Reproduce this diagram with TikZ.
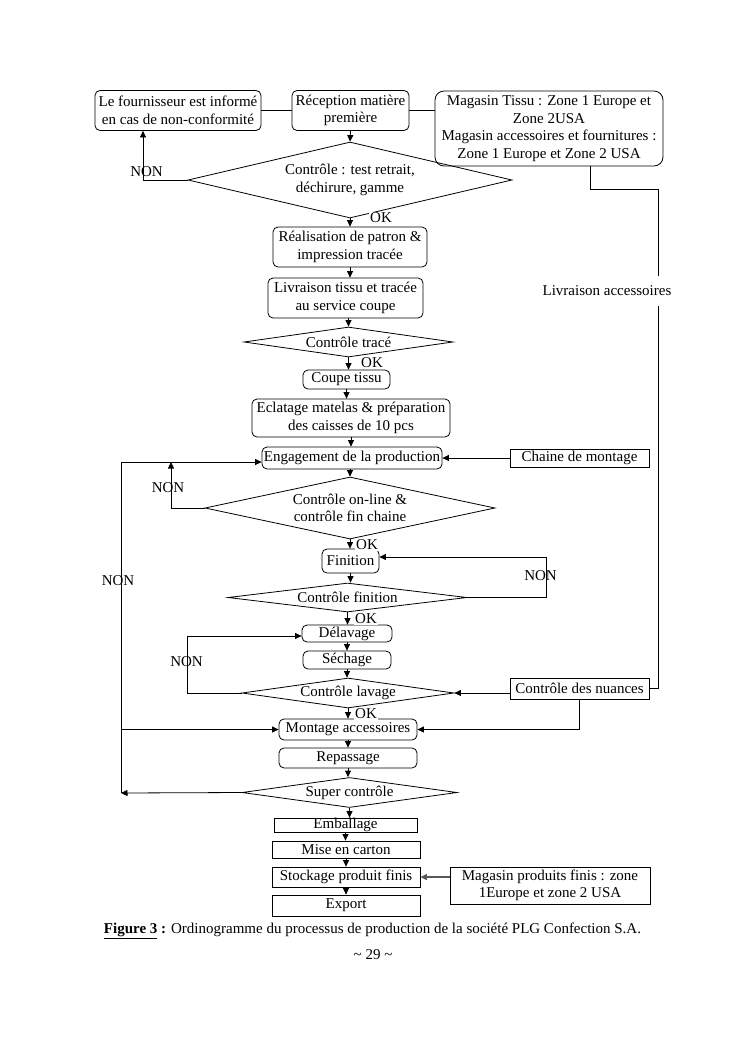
\documentclass[tikz,border=0pt]{standalone}
\usepackage{fontspec}
\setmainfont{Liberation Serif}
\usetikzlibrary{shapes.geometric,arrows.meta,calc}
\begin{document}
\begin{tikzpicture}[x=1pt,y=-1pt,
  every node/.style={font=\fontsize{15}{17.6}\selectfont, inner sep=0pt},
  line/.style={line width=0.8pt},
  arr/.style={line width=0.8pt,-{Triangle[length=6.5pt,width=6pt]}},
  rbox/.style={draw,line width=0.8pt,rounded corners=5pt,align=center},
  sbox/.style={draw,line width=0.8pt,align=center},
  dia/.style={draw,line width=0.8pt,diamond,align=center},
  oklbl/.style={fill=white,inner sep=1pt}]
\useasboundingbox (0,0) rectangle (746,1053);
\fill[white] (0,0) rectangle (746,1053);

% boxes
\node[rbox,minimum width=166pt,minimum height=40pt] (four) at (178,110.5) {Le fournisseur est informé\\en cas de non-conformité};
\node[rbox,minimum width=117pt,minimum height=40pt] (recep) at (350.5,110.5) {Réception matière\\première};
\node[rbox,rounded corners=9pt,minimum width=228pt,minimum height=75pt] (mag) at (549,128.5) {Magasin Tissu : Zone 1 Europe et\\Zone 2USA\\Magasin accessoires et fournitures :\\Zone 1 Europe et Zone 2 USA};
\node[dia,minimum width=324pt,minimum height=76pt,aspect=4.26] (d1) at (350,180) {Contrôle : test retrait,\\déchirure, gamme};
\node[rbox,minimum width=154pt,minimum height=40pt] (real) at (350,247) {Réalisation de patron \&\\impression tracée};
\node[rbox,minimum width=155pt,minimum height=40pt] (livr) at (345.5,298) {Livraison tissu et tracée\\au service coupe};
\node[dia,minimum width=209pt,minimum height=30pt,aspect=7] (d2) at (348.5,342) {Contrôle tracé};
\node[rbox,minimum width=87pt,minimum height=19pt] (coupe) at (346.5,379.5) {Coupe tissu};
\node[rbox,minimum width=198pt,minimum height=38pt] (ecl) at (351,418) {Eclatage matelas \& préparation\\des caisses de 10 pcs};
\node[rbox,minimum width=180pt,minimum height=22pt] (eng) at (352,458) {Engagement de la production};
\node[sbox,minimum width=139pt,minimum height=18pt] (chaine) at (579.5,458) {Chaine de montage};
\node[dia,minimum width=290pt,minimum height=62pt,aspect=4.68] (d3) at (350,508) {Contrôle on-line \&\\contrôle fin chaine};
\node[rbox,minimum width=57pt,minimum height=24pt] (fin) at (350.5,561) {Finition};
\node[dia,minimum width=239pt,minimum height=29pt,aspect=8.2] (d4) at (347.5,597.5) {Contrôle finition};
\node[rbox,minimum width=90pt,minimum height=17pt] (del) at (347,633.5) {Délavage};
\node[rbox,minimum width=88pt,minimum height=18pt] (sech) at (347,660) {Séchage};
\node[dia,minimum width=212pt,minimum height=30pt,aspect=7.07] (d5) at (348,693) {Contrôle lavage};
\node[sbox,minimum width=139pt,minimum height=21pt] (nuan) at (579.5,688.5) {Contrôle des nuances};
\node[rbox,minimum width=138pt,minimum height=21pt] (mont) at (348,729.5) {Montage accessoires};
\node[rbox,minimum width=138pt,minimum height=20pt] (rep) at (348,758) {Repassage};
\node[dia,minimum width=215pt,minimum height=30pt,aspect=7.2] (d6) at (349.5,792.5) {Super contrôle};
\node[sbox,minimum width=143pt,minimum height=14pt] (emb) at (345.5,825) {Emballage};
\node[sbox,minimum width=148pt,minimum height=17pt] (mise) at (346,849.5) {Mise en carton};
\node[sbox,minimum width=148pt,minimum height=20pt] (stock) at (346,877) {Stockage produit finis};
\node[sbox,minimum width=148pt,minimum height=21pt] (export) at (346,905.5) {Export};
\node[sbox,minimum width=200pt,minimum height=37pt] (mpf) at (550,885.5) {Magasin produits finis : zone\\1Europe et zone 2 USA};

% top connectors
\draw[line] (recep.west) -- (four.east);
\draw[line] (recep.east) -- (recep.east -| mag.west);
\draw[arr] (recep.south) -- (d1.north);
\coordinate (n1) at (143,180);
\draw[arr] (d1.west) -- (n1) -- (n1 |- four.south);
\node (non1) at (146.5,172) {NON};
\draw[arr] (d1.south) -- (real.north);
\node[oklbl] (ok1) at (381,218) {OK};
\draw[arr] (real.south) -- (real.south |- livr.north);
\draw[arr] (d2.north |- livr.south) -- (d2.north);
\draw[arr] (d2.south) -- (d2.south |- coupe.north);
\node[oklbl] (ok2) at (372,363) {OK};
\draw[arr] (coupe.south) -- (coupe.south |- ecl.north);
\draw[arr] (ecl.south) -- (ecl.south |- eng.north);
\draw[arr] (chaine.west) -- (eng.east);
\draw[arr] (d3.north |- eng.south) -- (d3.north);

% magasin accessories line
\coordinate (m1) at (590,189);
\coordinate (m2) at (658,189);
\draw[line] (mag.south -| m1) -- (m1) -- (m2) -- (m2 |- nuan.east) -- (nuan.east);
\node[fill=white,inner xsep=2pt,inner ysep=10pt] (livacc) at (607,291) {Livraison accessoires};

% left loops
\coordinate (lt) at (121,462);
\coordinate (lb) at (121,793);
\coordinate (n3) at (171,508);
\draw[arr] (d3.west) -- (n3) -- (n3 |- lt);
\node (non3) at (168,488) {NON};
\draw[arr] (d6.west) -- (lb);
\draw[arr] (lb) -- (lt) -- (lt -| eng.west);
\draw[arr] (lt |- mont.west) -- (mont.west);
\node (non0) at (118,581) {NON};

\draw[arr] (d3.south) -- (d3.south |- fin.north);
\node[oklbl] (ok3) at (367,545) {OK};
\draw[arr] (fin.south) -- (fin.south |- d4.north);
\coordinate (n4) at (546,557);
\draw[arr] (d4.east) -- (d4.east -| n4) -- (n4) -- (n4 -| fin.east);
\node (non4) at (540.5,576) {NON};
\draw[arr] (d4.south) -- (d4.south |- del.north);
\node[oklbl] (ok4) at (366,619) {OK};
\draw[arr] (del.south) -- (del.south |- sech.north);
\draw[arr] (sech.south) -- (sech.south |- d5.north);
\coordinate (n5) at (187,636);
\draw[arr] (d5.west) -- (d5.west -| n5) -- (n5) -- (n5 -| del.west);
\node (non5) at (186.5,662) {NON};
\draw[arr] (nuan.west |- d5.east) -- (d5.east);
\coordinate (n6) at (579,729.5);
\draw[arr] (nuan.south -| n6) -- (n6) -- (mont.east);
\draw[arr] (d5.south) -- (d5.south |- mont.north);
\node[oklbl] (ok5) at (366,714) {OK};
\draw[arr] (mont.south) -- (mont.south |- rep.north);
\draw[arr] (rep.south) -- (rep.south |- d6.north);
\draw[arr] (d6.south) -- (d6.south |- emb.north);
\draw[arr] (emb.south) -- (emb.south |- mise.north);
\draw[arr] (mise.south) -- (mise.south |- stock.north);
\draw[arr] (stock.south) -- (stock.south |- export.north);
\draw[arr,gray!70!black,line width=1.4pt] (mpf.west |- stock.east) -- (stock.east);

% caption
\node (cap) at (372.5,931) {\textbf{\underline{Figure 3}} \textbf{:} Ordinogramme du processus de production de la société PLG Confection S.A.};
\node (pg) at (373,955) {\textasciitilde{} 29 \textasciitilde};
\end{tikzpicture}
\end{document}
